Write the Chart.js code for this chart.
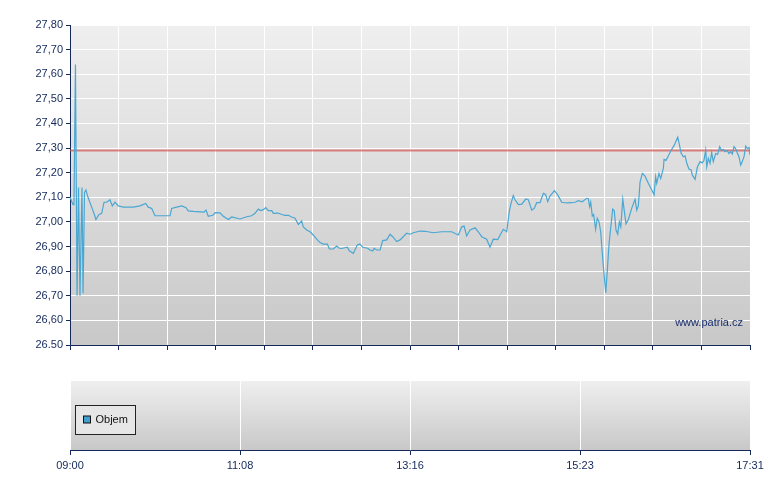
<!DOCTYPE html>
<html>
<head>
<meta charset="utf-8">
<title>Patria</title>
<script src="https://cdn.jsdelivr.net/npm/chart.js@4/dist/chart.umd.min.js"></script>
<style>
    body { margin: 0; background: #fff; }
    #wrap { position: relative; width: 780px; height: 490px; }
    #priceChart  { position: absolute; left: 0; top: 0; }
    #volumeChart { position: absolute; left: 0; top: 360px; }
</style>
</head>
<body>
<div id="wrap">
    <canvas id="priceChart" width="780" height="360"></canvas>
    <canvas id="volumeChart" width="780" height="130"></canvas>
</div>
<script>
// minuty od 09:00
const times = [
    0, 2.3, 3, 4.1, 5.3, 6.4, 7.5, 9, 9.8, 10.9, 12, 13.5, 16.3, 18.3, 19.5, 21.8, 23.8, 25.6, 27.6, 30,
    31.8, 33.8, 36.3, 40, 47.6, 52.6, 56.9, 58.8, 61.4, 63.9, 75.2, 76.4, 80.2, 83.9, 87.2, 88.9, 92.7, 100.7, 102.2, 103.9,
    107.7, 109, 112.7, 115.2, 119, 121.5, 127.8, 132.8, 136.5, 139, 141.5, 143.3, 145.3, 147.1, 149, 151.6, 152.8, 156.5, 159.1, 161.6,
    164.1, 166.6, 169.1, 171.6, 174.1, 175.3, 177.9, 180.4, 182.8, 185.4, 187.9, 190.4, 193.4, 194.9, 197.9, 200.4, 202.4, 204.2, 208.4, 209.9,
    212.9, 215.9, 217.9, 220, 223.7, 225.4, 227.5, 228.5, 230.5, 233, 235, 238, 240.5, 242.5, 245.5, 248, 253, 255.5, 258, 263,
    266.8, 273, 279.3, 286.8, 291.8, 294.4, 296.1, 298.1, 300.6, 304.4, 306.8, 309.4, 313.1, 315.6, 318.1, 321.4, 325.6, 328.2, 330.1, 331.2,
    333.1, 334.4, 336.9, 339.5, 342.5, 344.4, 347, 348.9, 350.7, 353.2, 355.7, 357.4, 359, 360.7, 364, 366.5, 369.5, 373.3, 377, 379.5,
    382, 384.8, 388.3, 389.5, 390.5, 391.3, 392.5, 393.5, 395, 396.2, 397.5, 398.8, 400, 401.3, 402.6, 403.8, 405.1, 406.3, 407.8, 409,
    410.3, 411.6, 412.8, 413.9, 415.4, 416.6, 417.8, 419.6, 422.1, 424.6, 425.9, 427.1, 428.4, 430.1, 432.1, 434.6, 437.2, 438.9, 440.1, 440.9,
    442.6, 443.9, 445.9, 446.4, 447.9, 449.6, 451.6, 454.1, 456.7, 457.7, 459.2, 460.9, 462.2, 463.5, 465.2, 466.7, 467.7, 469.7, 471.5, 473.5,
    475.2, 476.4, 477.7, 478.5, 479.7, 481, 482.2, 483.4, 485.2, 486.7, 488.2, 489.7, 491, 492.2, 493.7, 495.2, 496.5, 497.7, 499, 500.2,
    501.4, 502.7, 504, 505.2, 506.5, 507.8, 509, 510.3, 511
];
const prices = [
    27.10, 27.07, 27.08, 27.64, 26.70, 27.14, 26.70, 27.14, 26.71, 27.12, 27.13, 27.10, 27.06, 27.03, 27.01, 27.03, 27.035, 27.08, 27.08, 27.09,
    27.065, 27.08, 27.065, 27.06, 27.06, 27.065, 27.075, 27.06, 27.055, 27.025, 27.025, 27.055, 27.06, 27.065, 27.058, 27.045, 27.043, 27.04, 27.048, 27.023,
    27.028, 27.038, 27.037, 27.023, 27.01, 27.02, 27.012, 27.021, 27.025, 27.035, 27.052, 27.046, 27.05, 27.058, 27.046, 27.046, 27.035, 27.036, 27.03, 27.027,
    27.027, 27.02, 27.015, 26.99, 27.004, 26.98, 26.967, 26.96, 26.947, 26.93, 26.916, 26.91, 26.91, 26.89, 26.89, 26.902, 26.893, 26.892, 26.897, 26.883,
    26.872, 26.906, 26.91, 26.897, 26.893, 26.886, 26.882, 26.893, 26.886, 26.886, 26.924, 26.927, 26.95, 26.94, 26.92, 26.927, 26.954, 26.95, 26.956, 26.963,
    26.962, 26.956, 26.96, 26.96, 26.947, 26.98, 26.983, 26.943, 26.967, 26.976, 26.96, 26.94, 26.93, 26.897, 26.93, 26.928, 26.97, 26.96, 27.042, 27.07,
    27.107, 27.09, 27.07, 27.072, 27.093, 27.09, 27.048, 27.055, 27.078, 27.078, 27.116, 27.112, 27.082, 27.105, 27.127, 27.11, 27.08, 27.077, 27.078, 27.08,
    27.086, 27.082, 27.096, 27.094, 27.062, 27.08, 27.024, 27.03, 26.97, 27.015, 27.001, 26.96, 26.872, 26.79, 26.712, 26.805, 26.913, 26.974, 27.052, 27.045,
    26.967, 26.95, 27.00, 26.98, 27.092, 27.042, 26.992, 27.01, 27.055, 27.092, 27.048, 27.065, 27.163, 27.197, 27.186, 27.157, 27.13, 27.11, 27.184, 27.157,
    27.197, 27.177, 27.218, 27.254, 27.25, 27.268, 27.29, 27.312, 27.344, 27.32, 27.28, 27.265, 27.268, 27.238, 27.214, 27.212, 27.19, 27.173, 27.224, 27.245,
    27.24, 27.25, 27.292, 27.224, 27.258, 27.238, 27.281, 27.245, 27.278, 27.274, 27.306, 27.29, 27.295, 27.285, 27.29, 27.278, 27.285, 27.276, 27.306, 27.298,
    27.281, 27.265, 27.231, 27.245, 27.265, 27.308, 27.298, 27.302, 27.272
];
const previousClose = 27.29;
const yTickLabels   = ['26.50', '26,60', '26,70', '26,80', '26,90', '27,00', '27,10', '27,20', '27,30', '27,40', '27,50', '27,60', '27,70', '27,80'];
const xTickValues   = [0, 127.75, 255.5, 383.25, 511];
const xTickLabels   = ['09:00', '11:08', '13:16', '15:23', '17:31'];
const volumeLabel   = 'Objem';
const volumes       = [];

const navy = '#14295a';
Chart.defaults.font.family = '"Liberation Sans", Arial, sans-serif';
Chart.defaults.font.size   = 11;
Chart.defaults.color       = navy;
Chart.defaults.animation   = false;

const panelBackground = {
    id: 'panelBackground',
    beforeDraw(chart) {
        const a   = chart.chartArea;
        const ctx = chart.ctx;
        const g   = ctx.createLinearGradient(0, a.top, 0, a.bottom);
        g.addColorStop(0, '#efefef');
        g.addColorStop(1, '#c8c8c8');
        ctx.save();
        ctx.fillStyle = g;
        ctx.fillRect(a.left, a.top, a.right - a.left, a.bottom - a.top);
        ctx.restore();
    }
};

const watermark = {
    id: 'watermark',
    afterDatasetsDraw(chart) {
        const a   = chart.chartArea;
        const ctx = chart.ctx;
        ctx.save();
        ctx.font         = '11px "Liberation Sans", Arial, sans-serif';
        ctx.fillStyle    = '#1a2f6e';
        ctx.textAlign    = 'right';
        ctx.textBaseline = 'middle';
        ctx.fillText('www.patria.cz', a.right - 7, a.bottom - 22);
        ctx.restore();
    }
};

const volumeLegend = {
    id: 'volumeLegend',
    afterDraw(chart) {
        const a   = chart.chartArea;
        const ctx = chart.ctx;
        const ds  = chart.data.datasets[0];
        const x   = a.left + 5.5, y = a.top + 24.5;
        ctx.save();
        ctx.fillStyle   = '#e6e6e6';
        ctx.strokeStyle = '#222';
        ctx.lineWidth   = 1;
        ctx.fillRect(x, y, 60, 29);
        ctx.strokeRect(x, y, 60, 29);
        ctx.fillStyle = ds.backgroundColor;
        ctx.fillRect(x + 8, y + 10.5, 7, 7);
        ctx.strokeStyle = '#111';
        ctx.strokeRect(x + 8, y + 10.5, 7, 7);
        ctx.font         = '11px "Liberation Sans", Arial, sans-serif';
        ctx.fillStyle    = '#111';
        ctx.textBaseline = 'middle';
        ctx.fillText(ds.label, x + 20, y + 14.5);
        ctx.restore();
    }
};

new Chart(document.getElementById('priceChart'), {
    type: 'line',
    data: {
        datasets: [
            {
                label      : 'Cena',
                data       : times.map((t, i) => ({ x: t, y: prices[i] })),
                borderColor: '#4aa7d2',
                borderWidth: 1.2,
                pointRadius: 0,
                tension    : 0
            },
            {
                label      : 'Předchozí závěr',
                data       : [{ x: 0, y: previousClose }, { x: 511, y: previousClose }],
                borderColor: 'rgba(214, 70, 70, 0.65)',
                borderWidth: 2,
                pointRadius: 0
            }
        ]
    },
    options: {
        responsive: false,
        layout    : { padding: { top: 25, right: 30, left: 0, bottom: 0 } },
        plugins   : { legend: { display: false }, tooltip: { enabled: false } },
        scales    : {
            x: {
                type    : 'linear',
                min     : 0,
                max     : 511,
                afterBuildTicks: scale => {
                    scale.ticks = [];
                    for (let i = 0; i <= 14; i++) scale.ticks.push({ value: i * 36.5 });
                },
                afterFit: scale => { scale.height = 15; },
                ticks   : { display: false },
                grid    : { color: '#ffffff', lineWidth: 1, tickColor: navy, tickLength: 5 },
                border  : { color: navy, width: 1 }
            },
            y: {
                min     : 26.5,
                max     : 27.8,
                afterBuildTicks: scale => {
                    scale.ticks = yTickLabels.map((l, i) => ({ value: 26.5 + i * 0.1 }));
                },
                afterFit: scale => { scale.width = 70; },
                ticks   : {
                    padding : 3,
                    callback: (v, i) => yTickLabels[i]
                },
                grid    : { color: '#ffffff', lineWidth: 1, tickColor: navy, tickLength: 4 },
                border  : { color: navy, width: 1 }
            }
        }
    },
    plugins: [panelBackground, watermark]
});

new Chart(document.getElementById('volumeChart'), {
    type: 'bar',
    data: {
        datasets: [
            {
                label          : volumeLabel,
                data           : volumes,
                backgroundColor: '#3e9fd0'
            }
        ]
    },
    options: {
        responsive: false,
        layout    : { padding: { top: 21, right: 30, left: 70, bottom: 0 } },
        plugins   : { legend: { display: false }, tooltip: { enabled: false } },
        scales    : {
            x: {
                type    : 'linear',
                min     : 0,
                max     : 511,
                offset  : false,
                afterBuildTicks: scale => {
                    scale.ticks = xTickValues.map(v => ({ value: v }));
                },
                afterFit: scale => { scale.height = 40; },
                ticks   : {
                    padding    : 4,
                    maxRotation: 0,
                    autoSkip   : false,
                    color      : navy,
                    callback   : (v, i) => xTickLabels[i]
                },
                grid    : { offset: false, color: '#ffffff', lineWidth: 1, tickColor: navy, tickLength: 5 },
                border  : { color: navy, width: 1 }
            },
            y: { display: false, min: 0, max: 1 }
        }
    },
    plugins: [panelBackground, volumeLegend]
});
</script>
</body>
</html>
